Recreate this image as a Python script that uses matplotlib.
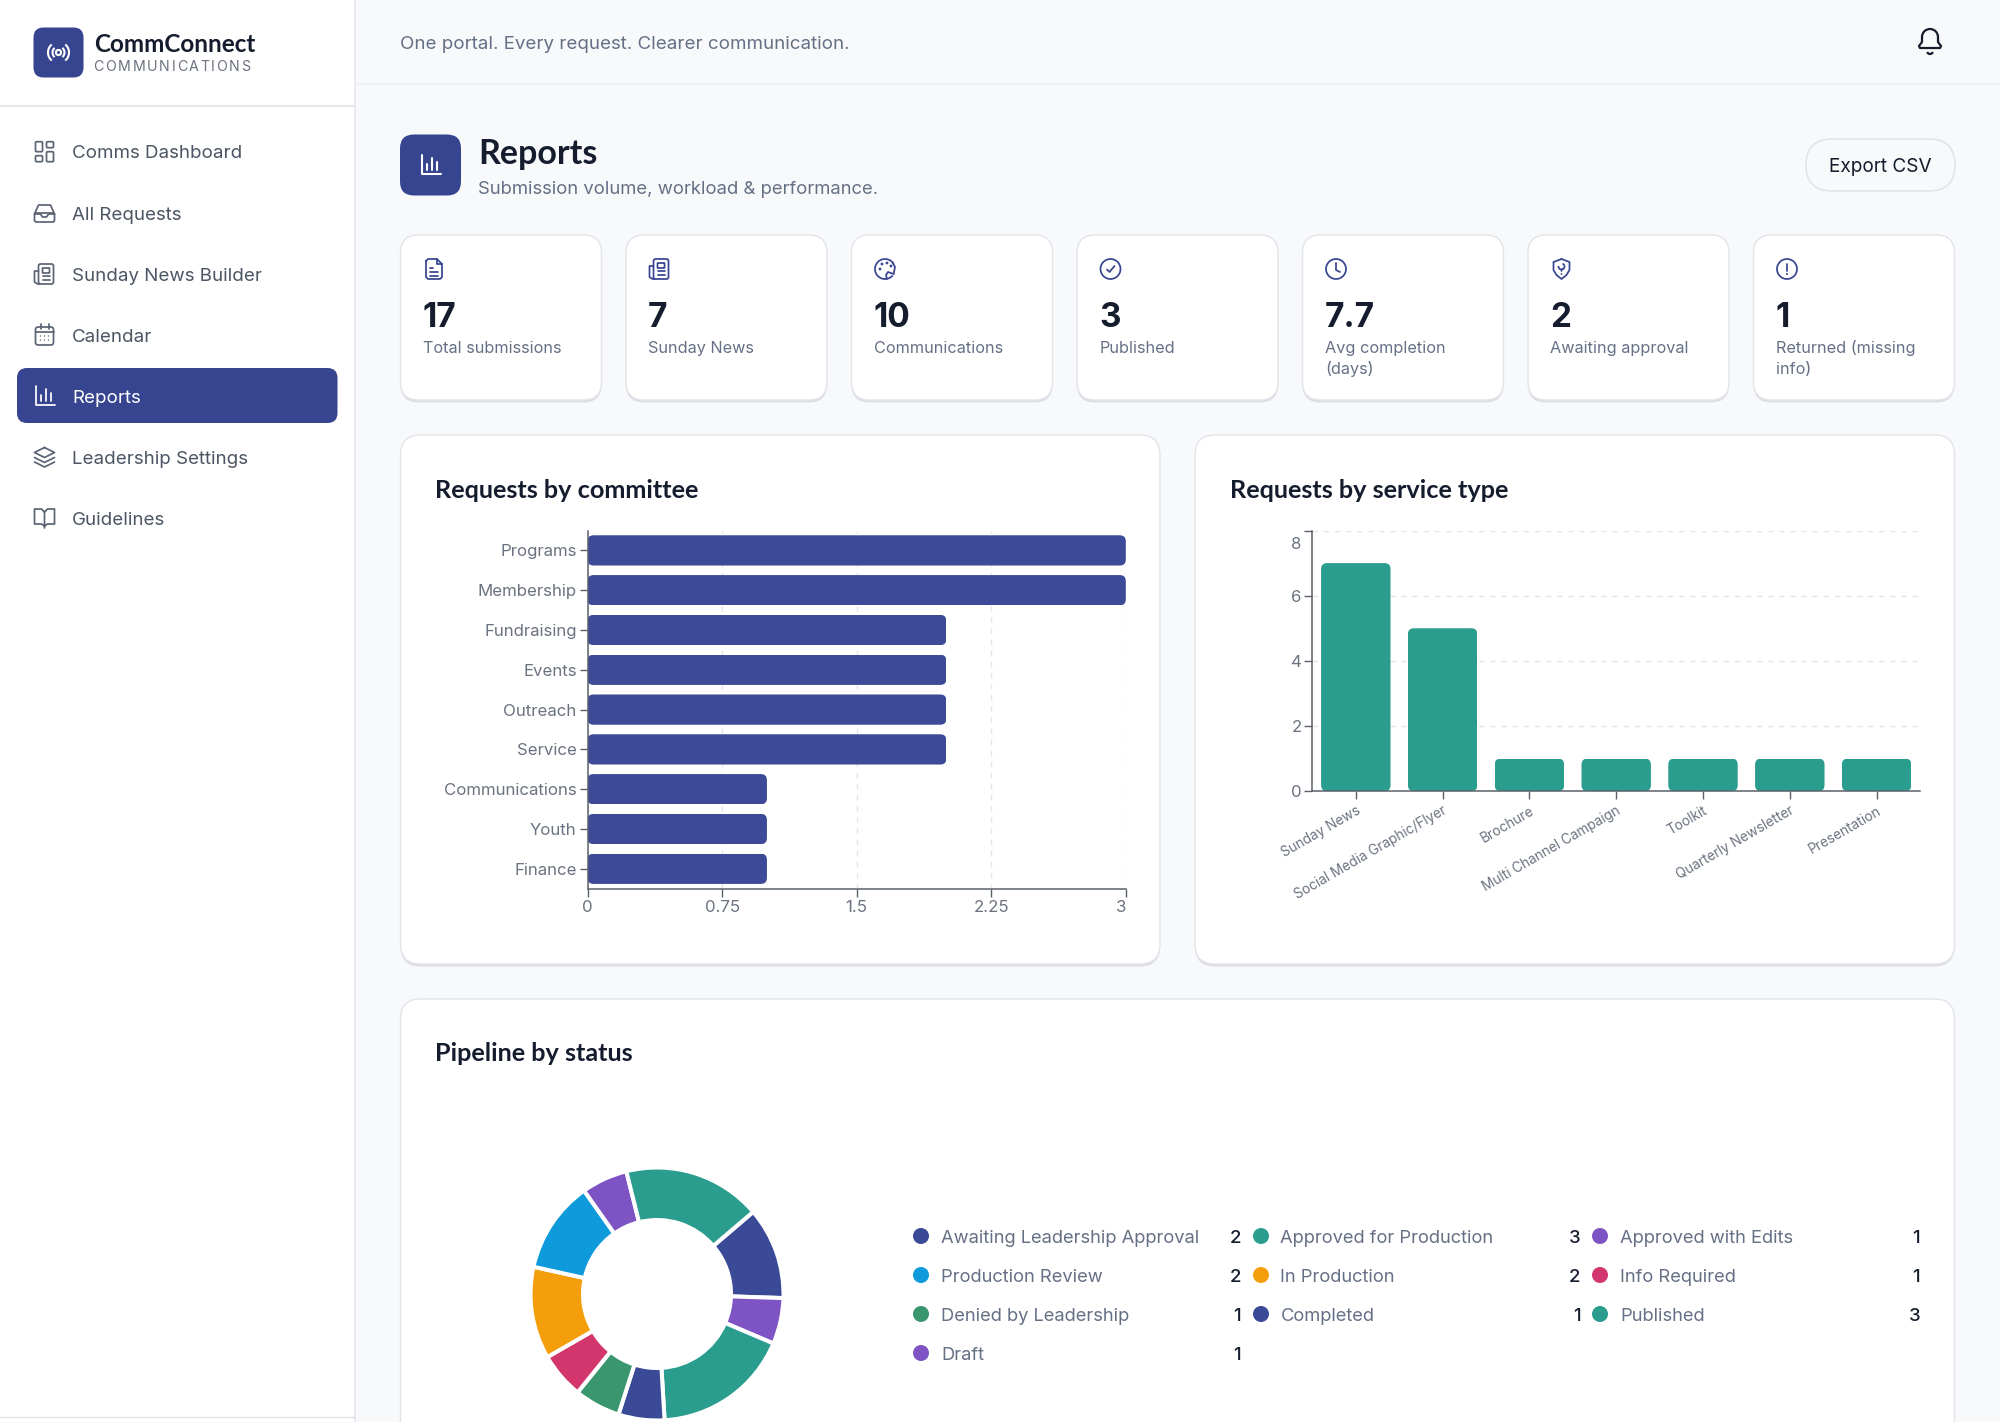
import numpy as np
import matplotlib
matplotlib.use("Agg")
import matplotlib.pyplot as plt
from matplotlib.patches import FancyBboxPatch, Circle, Arc, Rectangle
from matplotlib.font_manager import FontProperties
from matplotlib.textpath import text_to_path
from matplotlib.transforms import ScaledTranslation

# ---------- data ----------
committees = ["Programs", "Membership", "Fundraising", "Events", "Outreach",
              "Service", "Communications", "Youth", "Finance"]
committee_counts = [3, 3, 2, 2, 2, 2, 1, 1, 1]
committee_ticks = [0, 0.75, 1.5, 2.25, 3]
committee_tick_labels = ["0", "0.75", "1.5", "2.25", "3"]

service_types = ["Sunday News", "Social Media Graphic/Flyer", "Brochure",
                 "Multi Channel Campaign", "Toolkit", "Quarterly Newsletter", "Presentation"]
service_counts = [7, 5, 1, 1, 1, 1, 1]
service_ticks = [0, 2, 4, 6, 8]

status_names = ["Awaiting Leadership Approval", "Approved with Edits", "Published", "Completed",
                "Denied by Leadership", "Info Required", "In Production", "Production Review",
                "Draft", "Approved for Production"]
status_counts = [2, 1, 3, 1, 1, 1, 2, 2, 1, 3]
status_colors = ["#3b4a97", "#7e53c4", "#2a9d8f", "#3b4a97", "#3a966e",
                 "#d2366c", "#f59e0b", "#0e9adb", "#7e53c4", "#2a9d8f"]
legend_order = ["Awaiting Leadership Approval", "Approved for Production", "Approved with Edits",
                "Production Review", "In Production", "Info Required",
                "Denied by Leadership", "Completed", "Published", "Draft"]

kpi_values = ["17", "7", "10", "3", "7.7", "2", "1"]
kpi_labels = ["Total submissions", "Sunday News", "Communications", "Published",
              "Avg completion\n(days)", "Awaiting approval", "Returned (missing\ninfo)"]
nav_items = ["Comms Dashboard", "All Requests", "Sunday News Builder", "Calendar",
             "Reports", "Leadership Settings", "Guidelines"]

# ---------- style ----------
W, H = 2000, 1422
BODY = "Inter"
HEAD = "Lato"
NAVY = "#374490"
BAR = "#3d4a98"
TEAL = "#2a9d8f"
INK = "#141c2e"
GRAY = "#667085"
TICK = "#6b7280"
AXIS = "#5b6069"
GRID = "#e3e5ea"
BORDER = "#e2e4e9"
BG = "#f8f9fb"

fig = plt.figure(figsize=(W / 100, H / 100), dpi=100, facecolor=BG)
ui = fig.add_axes([0, 0, 1, 1], zorder=0)
ui.set_xlim(0, W)
ui.set_ylim(H, 0)
ui.axis("off")


def box(x, y, w, h, r, fc, ec="none", lw=0, z=2):
    p = FancyBboxPatch((x, y), w, h, boxstyle=f"round,pad=0,rounding_size={r}",
                       fc=fc, ec=ec, lw=lw, zorder=z)
    ui.add_patch(p)
    return p


def txt(x, y, s, size, color=GRAY, family=BODY, weight="normal", ha="left", z=6):
    """y is the visual centre of the capitals; text sits on a computed baseline."""
    return ui.text(x, y + 0.36 * size * 100 / 72, s, fontsize=size, color=color, family=family,
                   weight=weight, ha=ha, va="baseline", zorder=z)


def spaced(x, y, s, size, width, color, family=BODY):
    fp = FontProperties(family=family, size=size)
    scale = 100 / 72
    wid = [text_to_path.get_text_width_height_descent(c, fp, False)[0] * scale for c in s]
    gap = (width - sum(wid)) / (len(s) - 1)
    for c, w_ in zip(s, wid):
        txt(x, y, c, size, color, family)
        x += w_ + gap


def card(x, y, w, h, r=18):
    box(x, y + 2.5, w, h, r, "#dcdee4", z=1)
    box(x, y, w, h, r, "white", BORDER, 1.0, z=2)


def pl(pts, c, lw=1.25, z=7):
    a = np.array(pts, float)
    ui.plot(a[:, 0], a[:, 1], color=c, lw=lw, zorder=z, solid_capstyle="round",
            solid_joinstyle="round")


def rr(x, y, w, h, r, c, lw=1.25, fc="none", z=7):
    box(x, y, w, h, r, fc, c, lw, z=z)


def ring(x, y, r, c, lw=1.25, fc="none", z=7):
    ui.add_patch(Circle((x, y), r, fc=fc, ec=c, lw=lw, zorder=z))


def arc(x, y, d, t1, t2, c, lw=1.25, z=7):
    ui.add_patch(Arc((x, y), d, d, theta1=t1, theta2=t2, color=c, lw=lw, zorder=z))


# ---------- icons (centered at x,y, about 20 px) ----------
def ic_grid(x, y, c):
    rr(x - 9, y - 10, 7, 10, 1.2, c); rr(x + 2, y - 10, 7, 6, 1.2, c)
    rr(x - 9, y + 4, 7, 6, 1.2, c); rr(x + 2, y - 0, 7, 10, 1.2, c)


def ic_inbox(x, y, c):
    pl([(x - 10, y + 1), (x - 6, y - 8), (x + 6, y - 8), (x + 10, y + 1)], c)
    rr(x - 10, y + 0, 20, 9, 2, c)
    pl([(x - 10, y + 1), (x - 4, y + 1), (x - 2, y + 4), (x + 2, y + 4), (x + 4, y + 1), (x + 10, y + 1)], c)


def ic_news(x, y, c):
    rr(x - 6, y - 10, 15, 20, 2, c)
    pl([(x - 6, y - 3), (x - 10, y - 3), (x - 10, y + 8), (x - 7, y + 10), (x - 5, y + 10)], c)
    rr(x - 2, y - 6, 7, 5, 0.5, c)
    pl([(x - 2, y + 2), (x + 5, y + 2)], c); pl([(x - 2, y + 6), (x + 5, y + 6)], c)


def ic_cal(x, y, c):
    rr(x - 9, y - 8, 18, 18, 2.5, c)
    pl([(x - 9, y - 3), (x + 9, y - 3)], c)
    pl([(x - 4, y - 11), (x - 4, y - 6)], c); pl([(x + 4, y - 11), (x + 4, y - 6)], c)
    for dx in (-4, 0, 4):
        for dy in (1, 5):
            ui.add_patch(Circle((x + dx, y + dy), 0.7, fc=c, ec="none", zorder=7))


def ic_chart(x, y, c, lw=1.25):
    pl([(x - 9, y - 10), (x - 9, y + 9), (x + 10, y + 9)], c, lw)
    pl([(x - 4, y + 5), (x - 4, y - 1)], c, lw)
    pl([(x + 1, y + 5), (x + 1, y - 7)], c, lw)
    pl([(x + 6, y + 5), (x + 6, y - 3)], c, lw)


def ic_layers(x, y, c):
    pl([(x, y - 10), (x + 10, y - 5), (x, y), (x - 10, y - 5), (x, y - 10)], c)
    pl([(x - 10, y), (x, y + 5), (x + 10, y)], c)
    pl([(x - 10, y + 4.5), (x, y + 9.5), (x + 10, y + 4.5)], c)


def ic_book(x, y, c):
    pl([(x, y - 6), (x - 3, y - 9), (x - 10, y - 9), (x - 10, y + 6), (x - 3, y + 6), (x, y + 8),
        (x + 3, y + 6), (x + 10, y + 6), (x + 10, y - 9), (x + 3, y - 9), (x, y - 6), (x, y + 10)], c)


def ic_file(x, y, c):
    pl([(x - 8, y - 8), (x - 6, y - 10), (x + 3, y - 10), (x + 8, y - 5), (x + 8, y + 8), (x + 6, y + 10),
        (x - 6, y + 10), (x - 8, y + 8), (x - 8, y - 8)], c)
    pl([(x + 3, y - 10), (x + 3, y - 5), (x + 8, y - 5)], c)
    for dy, e in ((-1, -1), (3, 4), (7, 4)):
        pl([(x - 4, y + dy), (x + e, y + dy)], c)


def ic_palette(x, y, c):
    arc(x, y, 20, 40, 330, c)
    pl([(x + 8.6, y + 5), (x + 3, y + 3), (x + 1, y + 6), (x + 2, y + 10)], c)
    pl([(x + 7.7, y - 6.4), (x + 10, y - 2), (x + 8.6, y + 5)], c)
    for dx, dy in ((-5, 0), (-3, -5), (2, -6), (6, -3)):
        ui.add_patch(Circle((x + dx, y + dy), 1.4, fc=c, ec="none", zorder=7))


def ic_check(x, y, c):
    ring(x, y, 10, c)
    pl([(x - 3.5, y + 0.5), (x - 1, y + 3), (x + 4, y - 3)], c)


def ic_clock(x, y, c):
    ring(x, y, 10, c)
    pl([(x, y - 6), (x, y + 1), (x + 4, y + 3)], c)


def ic_shield(x, y, c):
    pl([(x, y - 10), (x + 8, y - 7), (x + 8, y + 1), (x + 5, y + 6), (x, y + 10), (x - 5, y + 6),
        (x - 8, y + 1), (x - 8, y - 7), (x, y - 10)], c)
    arc(x, y - 2.5, 6, -70, 190, c)
    pl([(x + 1, y - 0.2), (x, y + 1), (x, y + 2)], c)
    ui.add_patch(Circle((x, y + 5), 0.9, fc=c, ec="none", zorder=7))


def ic_alert(x, y, c):
    ring(x, y, 10, c)
    pl([(x, y - 5.5), (x, y + 1.5)], c)
    ui.add_patch(Circle((x, y + 5), 1.0, fc=c, ec="none", zorder=7))


def ic_bell(x, y, c):
    lw = 1.6
    arc(x, y - 3, 16, 180, 360, c, lw)
    pl([(x - 8, y - 3), (x - 8, y + 2), (x - 11, y + 6), (x - 10, y + 8), (x + 10, y + 8),
        (x + 11, y + 6), (x + 8, y + 2), (x + 8, y - 3)], c, lw)
    arc(x, y + 11, 6, 20, 160, c, lw)


def ic_radio(x, y, c):
    lw = 1.5
    ring(x, y, 2.6, c, lw)
    for d in (12, 21):
        arc(x, y, d, -50, 50, c, lw)
        arc(x, y, d, 130, 230, c, lw)


# ---------- page chrome ----------
ui.add_patch(Rectangle((0, 0), 355, H, fc="white", ec="none", zorder=1))
pl([(355, 0), (355, H)], "#e6e8ed", 1.2, z=2)
pl([(0, 106), (355, 106)], "#e2e4e9", 1.2, z=2)
pl([(0, 1417), (355, 1417)], "#e2e4e9", 1.0, z=2)
pl([(355, 84), (W, 84)], "#eef0f3", 1.2, z=2)

box(33.5, 27.5, 50, 50, 10, NAVY, z=3)
ic_radio(58.5, 52.5, "white")
txt(94, 43, "CommConnect", 17.5, INK, HEAD, "bold")
spaced(93.5, 65.8, "COMMUNICATIONS", 10.2, 157, "#6b7280")

nav_y = [151.7, 213, 274, 335, 396, 457.5, 518]
nav_icons = [ic_grid, ic_inbox, ic_news, ic_cal, ic_chart, ic_layers, ic_book]
box(17, 368, 320.5, 55, 10, NAVY, z=3)
for name, y_, ic in zip(nav_items, nav_y, nav_icons):
    active = name == "Reports"
    col = "white" if active else "#5b6474"
    txt(72, y_, name, 13.5, "white" if active else "#4b5563")
    ic(44.5, y_, col)

txt(400, 42.3, "One portal. Every request. Clearer communication.", 13.5, "#667085")
ic_bell(1930, 40, INK)

box(400, 134.5, 61, 61, 14, NAVY, z=3)
ic_chart(430.5, 165, "white", 1.5)
txt(478, 152, "Reports", 24.5, INK, HEAD, "bold")
txt(478, 187.5, "Submission volume, workload & performance.", 13.3, "#667085")

box(1806, 139, 149, 52, 26, BG, "#e0e2e7", 1.1, z=3)
txt(1880.5, 165, "Export CSV", 13.7, INK, ha="center")

# ---------- KPI cards ----------
kpi_icons = [ic_file, ic_news, ic_palette, ic_check, ic_clock, ic_shield, ic_alert]
for i, (v, lab, ic) in enumerate(zip(kpi_values, kpi_labels, kpi_icons)):
    x0 = 400.5 + 225.5 * i
    card(x0, 235, 201, 165)
    ic(x0 + 33.5, 269, NAVY)
    txt(x0 + 22, 314.7, v, 24, INK, BODY, "bold")
    for j, line in enumerate(lab.split("\n")):
        txt(x0 + 22.5, 347 + j * 21, line, 11.7, "#667085")

# ---------- panels ----------
card(400.5, 435, 759.5, 529, 20)
card(1195, 435, 759.5, 529, 20)
card(400.5, 999, 1554, 560, 20)
txt(435, 488.7, "Requests by committee", 18.2, INK, HEAD, "bold")
txt(1230, 488.7, "Requests by service type", 18.2, INK, HEAD, "bold")
txt(435, 1051.5, "Pipeline by status", 18.2, INK, HEAD, "bold")


def fa(x0, y0, x1, y1):
    return [x0 / W, 1 - y1 / H, (x1 - x0) / W, (y1 - y0) / H]


def round_bars(ax, bars, xpx, ypx, r):
    """Clip each bar to a rounded box: r in pixels, xpx / ypx = pixels per data unit."""
    for b in bars:
        x, y, w_, h_ = b.get_x(), b.get_y(), b.get_width(), b.get_height()
        clip = FancyBboxPatch((x, y), w_, h_,
                              boxstyle=f"round,pad=0,rounding_size={r / xpx}",
                              mutation_aspect=xpx / ypx, transform=ax.transData)
        b.set_clip_path(clip)


def style_axis(ax):
    ax.patch.set_alpha(0)
    for s in ("top", "right"):
        ax.spines[s].set_visible(False)
    for s in ("left", "bottom"):
        ax.spines[s].set_color(AXIS)
        ax.spines[s].set_linewidth(1.1)
    ax.tick_params(length=5.8, width=1.0, color=AXIS, labelcolor=TICK, labelsize=12.1, pad=2)
    ax.set_axisbelow(True)
    for lab in ax.get_xticklabels() + ax.get_yticklabels():
        lab.set_family(BODY)


# ---------- horizontal bars ----------
a1 = fig.add_axes(fa(587.5, 530.5, 1125.8, 888.7), zorder=3)
ypos = np.arange(len(committees))
bars1 = a1.barh(ypos, committee_counts, height=0.76, color=BAR)
a1.set_xlim(0, 3)
a1.set_ylim(len(committees) - 0.5, -0.5)
a1.set_yticks(ypos, committees)
a1.set_xticks(committee_ticks, committee_tick_labels)
a1.grid(axis="x", color=GRID, lw=1.0, ls=(0, (4, 4)))
style_axis(a1)
a1.get_xticklabels()[-1].set_ha("right")
round_bars(a1, bars1, (1125.8 - 587.5) / 3, 358.2 / 9, 6)

# ---------- vertical bars ----------
a2 = fig.add_axes(fa(1312.4, 530.5, 1920, 791.2), zorder=3)
xpos = np.arange(len(service_types))
bars2 = a2.bar(xpos, service_counts, width=0.8, color=TEAL)
a2.set_xlim(-0.5, len(service_types) - 0.5)
a2.set_ylim(0, 8)
a2.set_yticks(service_ticks, [str(t) for t in service_ticks])
a2.set_xticks(xpos, service_types)
a2.grid(axis="y", color=GRID, lw=1.0, ls=(0, (4, 4)))
style_axis(a2)
a2.tick_params(axis="x", pad=3)
for lab in a2.get_xticklabels():
    lab.set(rotation=30, ha="right", va="top", rotation_mode="anchor", fontsize=9.8)
for lab in a2.get_yticklabels():
    if lab.get_text() == "8":
        lab.set_transform(lab.get_transform() + ScaledTranslation(0, -12.5 / 100, fig.dpi_scale_trans))
round_bars(a2, bars2, (1920 - 1312.4) / 7, 260.7 / 8, 6)

# ---------- donut ----------
R = 126.5
a3 = fig.add_axes(fa(657 - R, 1294 - R, 657 + R, 1294 + R), zorder=3)
a3.pie(status_counts, colors=status_colors, startangle=40.5, counterclock=False, radius=1.0,
       wedgeprops=dict(width=1 - 74 / R, edgecolor="white", linewidth=2.9))
a3.set_xlim(-1, 1)
a3.set_ylim(-1, 1)
a3.set_aspect("equal")
a3.patch.set_alpha(0)

# ---------- donut legend ----------
col_dot = [921, 1261, 1600]
col_lab = [941, 1280.5, 1620.5]
col_val = [1241, 1580.5, 1920]
row_y = [1236.5, 1275.5, 1314.5, 1353.5]
for k, name in enumerate(legend_order):
    c_, r_ = k % 3, k // 3
    idx = status_names.index(name)
    ui.add_patch(Circle((col_dot[c_], row_y[r_] - 0.5), 8, fc=status_colors[idx], ec="none", zorder=6))
    txt(col_lab[c_], row_y[r_], name, 13.2, "#667085")
    txt(col_val[c_], row_y[r_], str(status_counts[idx]), 13.4, INK, ha="right", weight="medium")

fig.savefig("out.png", dpi=100, facecolor=BG)
